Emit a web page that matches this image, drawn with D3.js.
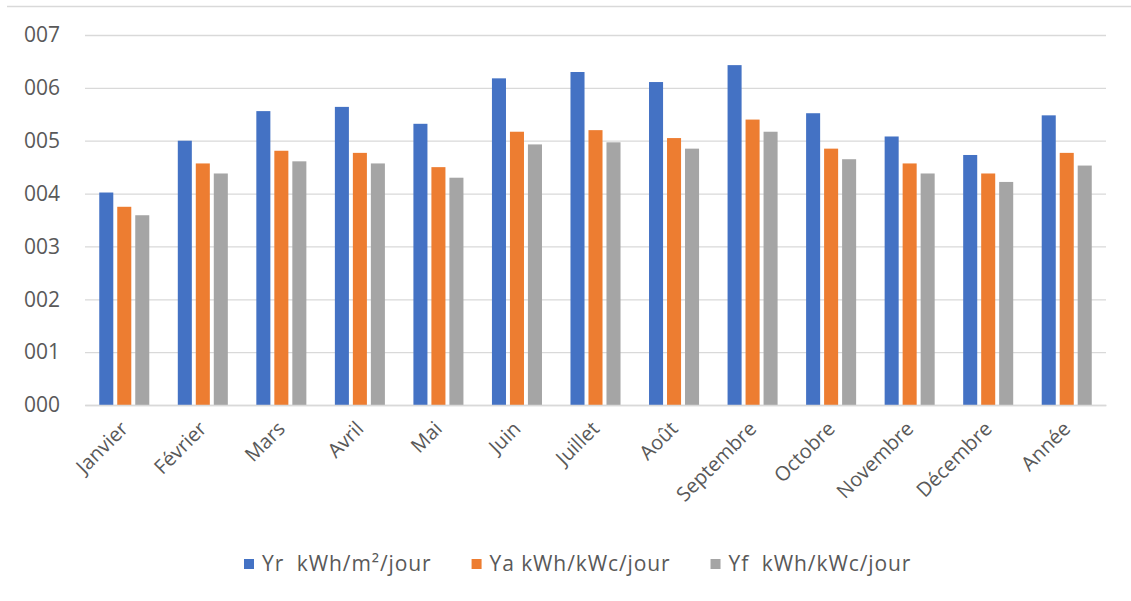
<!DOCTYPE html>
<html>
<head>
<meta charset="utf-8">
<script src="https://cdn.jsdelivr.net/npm/d3@7"></script>
<style>
  html, body { margin: 0; padding: 0; background: #fff; }
  svg { display: block; }
  text { font-family: "Open Sans", "Noto Sans", sans-serif; fill: #595959; }
</style>
</head>
<body>
<svg id="chart" width="1131" height="601"></svg>
<script>
// Monthly yields (Yr, Ya, Yf) per day
const categories = ["Janvier", "Février", "Mars", "Avril", "Mai", "Juin", "Juillet",
  "Août", "Septembre", "Octobre", "Novembre", "Décembre", "Année"];
const seriesNames = ["Yr  kWh/m²/jour", "Ya kWh/kWc/jour", "Yf  kWh/kWc/jour"];
const yr = [4.02, 5.00, 5.56, 5.64, 5.32, 6.18, 6.30, 6.11, 6.43, 5.52, 5.08, 4.73, 5.48];
const ya = [3.75, 4.57, 4.81, 4.77, 4.50, 5.17, 5.20, 5.05, 5.40, 4.85, 4.57, 4.38, 4.77];
const yf = [3.59, 4.38, 4.61, 4.57, 4.30, 4.93, 4.97, 4.85, 5.17, 4.65, 4.38, 4.22, 4.53];
const yTicks = [0, 1, 2, 3, 4, 5, 6, 7];
const colors = ["#4472C4", "#ED7D31", "#A5A5A5"];

const series = [yr, ya, yf];
const svg = d3.select("#chart");
const fontStack = '"Open Sans", "Noto Sans", sans-serif';

const plot = { left: 85, right: 1106, top: 35, bottom: 405 };

const x0 = d3.scaleBand()
  .domain(categories)
  .range([plot.left, plot.right])
  .paddingInner(0.363)
  .paddingOuter(0.1815);

const x1 = d3.scaleBand()
  .domain(d3.range(series.length))
  .range([0, x0.bandwidth()])
  .paddingInner(0.22);

const y = d3.scaleLinear()
  .domain([0, 7])
  .range([plot.bottom, plot.top]);

// chart frame top edge
svg.append("line")
  .attr("x1", 7).attr("x2", 1131)
  .attr("y1", 6.5).attr("y2", 6.5)
  .attr("stroke", "#D9D9D9").attr("stroke-width", 1.5);

// horizontal gridlines + value labels
const yAxis = d3.axisLeft(y)
  .tickValues(yTicks)
  .tickSize(-(plot.right - plot.left))
  .tickPadding(25)
  .tickFormat(d3.format("03d"));

const gy = svg.append("g")
  .attr("transform", `translate(${plot.left},0)`)
  .call(yAxis);
gy.select(".domain").remove();
gy.selectAll(".tick line").attr("stroke", "#D9D9D9").attr("stroke-width", 1.3);
gy.selectAll(".tick text")
  .attr("font-size", 21)
  .attr("fill", "#595959")
  .style("font-family", fontStack);

// bars
const groups = svg.append("g").selectAll("g")
  .data(categories)
  .join("g")
  .attr("transform", d => `translate(${x0(d)},0)`);

groups.selectAll("rect")
  .data((d, i) => series.map((s, k) => ({ k, v: s[i] })))
  .join("rect")
  .attr("x", d => x1(d.k))
  .attr("width", x1.bandwidth())
  .attr("y", d => y(d.v))
  .attr("height", d => y(0) - y(d.v))
  .attr("fill", d => colors[d.k]);

// category axis with rotated labels
const xAxis = d3.axisBottom(x0).tickSize(0).tickPadding(0);
const gx = svg.append("g")
  .attr("transform", `translate(0,${plot.bottom})`)
  .call(xAxis);
gx.select(".domain").attr("stroke", "#D9D9D9").attr("stroke-width", 1.3);
gx.selectAll(".tick text")
  .attr("font-size", 20)
  .attr("fill", "#595959")
  .style("font-family", fontStack)
  .attr("text-anchor", "end")
  .attr("dy", 0)
  .attr("y", 0)
  .attr("transform", "translate(5,25) rotate(-45)");

// legend
const legend = svg.append("g");
let lx = 244;
seriesNames.forEach((name, k) => {
  legend.append("rect")
    .attr("x", lx).attr("y", 559)
    .attr("width", 10).attr("height", 10)
    .attr("fill", colors[k]);
  const t = legend.append("text")
    .attr("x", lx + 18).attr("y", 571)
    .attr("font-size", 21)
    .attr("letter-spacing", 0.9)
    .attr("xml:space", "preserve")
    .style("white-space", "pre")
    .text(name);
  lx += 18 + t.node().getComputedTextLength() + 40;
});
</script>
</body>
</html>
